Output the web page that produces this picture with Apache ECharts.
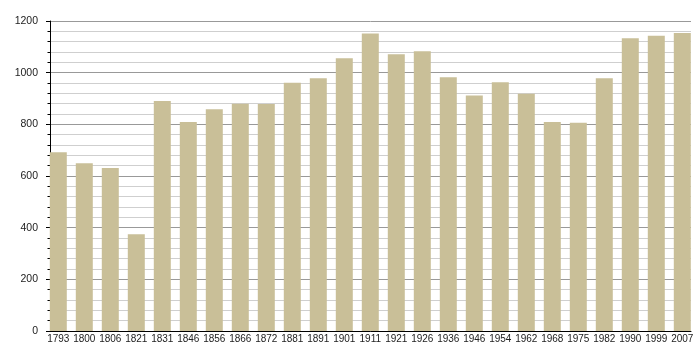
<!DOCTYPE html>
<html>
<head>
<meta charset="utf-8">
<script src="https://cdn.jsdelivr.net/npm/echarts@6/dist/echarts.min.js"></script>
<style>html,body{margin:0;padding:0;background:#fff}#c{width:700px;height:360px}</style>
</head>
<body>
<div id="c"></div>
<script>
const years = ['1793','1800','1806','1821','1831','1846','1856','1866','1872','1881','1891','1901','1911','1921','1926','1936','1946','1954','1962','1968','1975','1982','1990','1999','2007'];
const population = [692,649,631,375,890,809,858,880,879,961,978,1056,1152,1071,1083,982,912,963,918,809,806,978,1133,1143,1154];
const yTicks = [0,200,400,600,800,1000,1200];

const chart = echarts.init(document.getElementById('c'), null, {renderer:'canvas'});
const font = '"Liberation Sans", Arial, sans-serif';
chart.setOption({
  animation:false,
  backgroundColor:'#ffffff',
  grid:[
    {left:50, right:9, top:21, bottom:29},
    {left:45.3, right:4.7, top:21, bottom:29}
  ],
  xAxis:[
    {gridIndex:0, type:'value', min:0, max:1,
     axisLine:{show:true, lineStyle:{color:'#000', width:1}},
     axisTick:{show:false}, axisLabel:{show:false}, splitLine:{show:false}},
    {gridIndex:1, type:'category', data:years,
     axisLine:{show:false}, axisTick:{show:false},
     axisLabel:{color:'#222', fontSize:10, fontFamily:font, margin:3, interval:0}}
  ],
  yAxis:[
    {gridIndex:0, type:'value', min:yTicks[0], max:yTicks[yTicks.length-1], interval:200,
     axisLine:{show:true, lineStyle:{color:'#000', width:1}},
     axisTick:{show:true, length:4, lineStyle:{color:'#000'}},
     minorTick:{show:true, splitNumber:5, length:2.5, lineStyle:{color:'#000'}},
     axisLabel:{color:'#222', fontSize:10.5, fontFamily:font, margin:12,
                formatter:function(v){return String(v);}},
     splitLine:{show:true, lineStyle:{color:'#999', width:1}},
     minorSplitLine:{show:true, lineStyle:{color:'#cfcfcf', width:1}}},
    {gridIndex:1, type:'value', min:0, max:1200, show:false, splitLine:{show:false}}
  ],
  series:[
    {type:'bar', xAxisIndex:1, yAxisIndex:1, data:population, barWidth:17,
     itemStyle:{color:'#c9bf98'}, z:3}
  ]
});
</script>
</body>
</html>
